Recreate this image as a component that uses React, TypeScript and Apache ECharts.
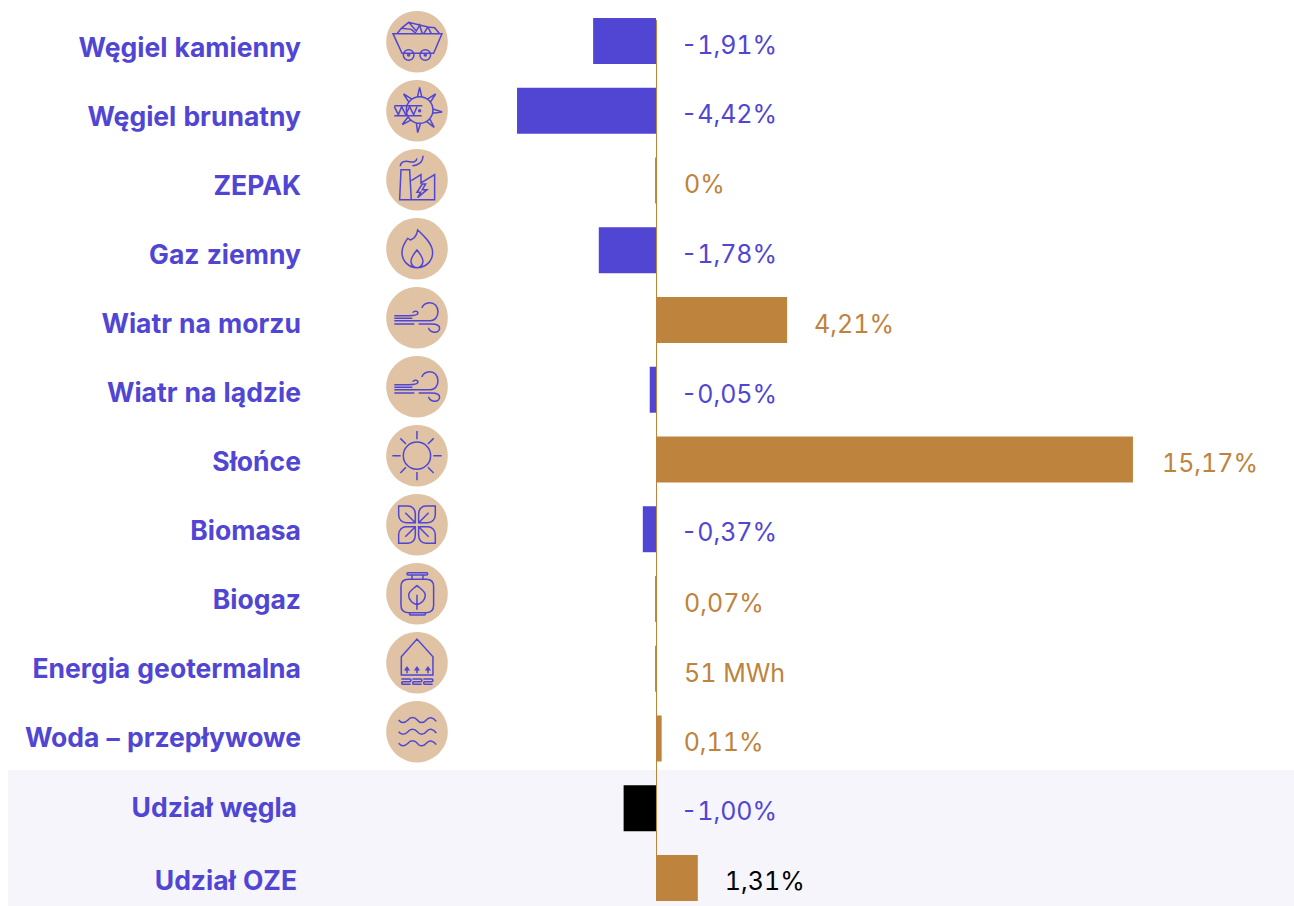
import React, { useEffect, useRef } from "react";
import * as echarts from "echarts";

const BLUE = "#5046d3";
const ORANGE = "#be833c";
const TAN = "#e0c3a4";
const BAND = "#f6f5fc";
const FONT = "Inter, 'Noto Sans', sans-serif";

const rowLabels = ["Węgiel kamienny", "Węgiel brunatny", "ZEPAK", "Gaz ziemny", "Wiatr na morzu", "Wiatr na lądzie", "Słońce", "Biomasa", "Biogaz", "Energia geotermalna", "Woda – przepływowe"];
const shareLabels = ["Udział węgla", "Udział OZE"];
const barKeys = [...rowLabels, ...shareLabels];
// Bar lengths as drawn in the picture (the thinnest bars are wider than their printed value).
const barValues = [-2.0, -4.42, -0.03, -1.82, 4.17, -0.2, 15.17, -0.42, -0.03, -0.03, 0.18, -1.03, 1.33];
const valueTexts = ["-1,91%", "-4,42%", "0%", "-1,78%", "4,21%", "-0,05%", "15,17%", "-0,37%", "0,07%", "51 MWh", "0,11%", "-1,00%", "1,31%"];
const barColors = [BLUE, BLUE, ORANGE, BLUE, ORANGE, BLUE, ORANGE, BLUE, ORANGE, ORANGE, ORANGE, "#000000", ORANGE];
const textColors = [BLUE, BLUE, ORANGE, BLUE, ORANGE, BLUE, ORANGE, BLUE, ORANGE, ORANGE, ORANGE, BLUE, "#000000"];
const labelGaps = [25, 25, 28, 25, 27, 25, 29, 25, 28, 28, 22, 25, 27];
const labelDy = [4, 3, 4, 4, 4, 4, 4, 3, 4, 4, 4, 3, 3];

const c = (x: number, y: number, r: number) => `M${x - r} ${y}a${r} ${r} 0 1 0 ${2 * r} 0a${r} ${r} 0 1 0 ${-2 * r} 0Z`;
const rr = (x: number, y: number, w: number, h: number, r: number) =>
  `M${x + r} ${y}H${x + w - r}Q${x + w} ${y} ${x + w} ${y + r}V${y + h - r}Q${x + w} ${y + h} ${x + w - r} ${y + h}H${x + r}Q${x} ${y + h} ${x} ${y + h - r}V${y + r}Q${x} ${y} ${x + r} ${y}Z`;
const wave = (y: number) => `M37 ${y}C45 ${y + 10} 55 ${y + 10} 65 ${y}C72 ${y - 10} 85 ${y - 10} 93 ${y}C100 ${y + 10} 112 ${y + 10} 120 ${y}C128 ${y - 10} 140 ${y - 10} 150 ${y + 4}`;
const arrow = (x: number) => `M${x} 124V108M${x - 5} 113L${x} 106L${x + 5} 113Z`;
const coil = (x: number) => `M${x} 141H${x + 26}C${x + 30} 141 ${x + 30} 149 ${x + 26} 149H${x + 4}C${x} 149 ${x} 157 ${x + 4} 157H${x + 28}`;
const tooth = (a: number) => {
  const t = (a * Math.PI) / 180, d = 0.16;
  const p = (ang: number, r: number) => `${(100 + r * Math.cos(ang)).toFixed(1)} ${(90 + r * Math.sin(ang)).toFixed(1)}`;
  return `M${p(t - d, 40)}L${p(t, 68)}L${p(t + d, 40)}`;
};

const windPath =
  "M24 86H67C80 86 95 86 95 78C95 72 84 70 79 77M24 94H78M24 101H132C147 101 155 88 155 74C155 58 145 47 130 47C118 47 108 55 107 63M24 111H84M97 111H136C150 111 160 116 160 124C160 132 152 137 144 136C134 135 127 128 127 122";

const iconPaths = [
  "M20 68H167L142 127H47ZM32 68L45 52L67 34L100 42L125 48L145 50L160 68M45 52L75 55L90 68M67 34L90 60L100 42L108 68M125 48L112 68M125 48L135 68" + c(67, 132, 16) + c(117, 132, 16) + c(67, 132, 3) + c(117, 132, 3),
  c(100, 90, 40) + [-90, -45, 5, 50, 95, 140, 225].map(tooth).join("") + "M24 77H108M24 107H106M24 80L36 104L46 80L58 104L70 80L82 104L92 80" + c(100, 92, 3),
  "M44 62H70L75 152H40ZM75 95L104 77V102L145 77V152H75M108 105L92 130H103L94 146L122 122H108L118 105ZM42 52C42 38 55 35 70 38C80 40 90 40 92 28M78 50C95 50 110 40 110 20",
  "M94 36C92 50 84 62 72 66C70 64 67 62 64 61C54 75 47 88 47 103C47 130 68 149 92 149C118 149 139 130 139 103C139 78 115 55 94 36ZM92 96C82 108 74 118 74 130C74 141 82 149 92 149C102 149 110 141 110 130C110 118 102 108 92 96Z",
  windPath,
  windPath,
  c(92, 92, 41) + "M92 18V43M92 141V166M18 92H43M141 92H166M42 40L59 57M142 40L125 57M42 144L59 127M142 144L125 127",
  "M37 36H65C78 36 87 46 87 60V86H60C47 86 37 76 37 62ZM57 56L87 86M147 36H119C106 36 97 46 97 60V86H124C137 86 147 76 147 62ZM127 56L97 86M37 148V122C37 108 47 98 60 98H87V124C87 138 78 148 65 148ZM57 128L87 98M147 148V122C147 108 137 98 124 98H97V124C97 138 106 148 119 148ZM127 128L97 98",
  rr(62, 29, 62, 7, 3) + "M77 36V49M110 36V49" + rr(44, 49, 98, 100, 22) + rr(70, 149, 47, 7, 2) + "M92 68C80 78 67 84 67 97C67 112 80 122 92 125C104 122 117 112 117 97C117 84 104 78 92 68ZM92 95V140",
  "M45 129V74L92 21L140 74V129Z" + arrow(62) + arrow(92) + arrow(125) + coil(45) + coil(78) + coil(111),
  wave(57) + wave(92) + wave(127),
];

const ICON_X = 417;
const ICON_Y0 = 42;
const ICON_STEP = 69;

export default function App() {
  const ref = useRef<HTMLDivElement>(null);
  useEffect(() => {
    if (!ref.current) return;
    iconPaths.forEach((d, i) => {
      echarts.graphic.registerShape("icon" + i, echarts.graphic.extendPath(d, {}) as any);
    });
    const chart = echarts.init(ref.current, undefined, { renderer: "svg" });
    const labelAxis = (gridIndex: number, data: string[]) => ({
      type: "category" as const,
      gridIndex,
      inverse: true,
      data,
      axisLine: { show: false },
      axisTick: { show: false },
      splitLine: { show: false },
      axisLabel: { margin: 0, color: BLUE, fontFamily: FONT, fontWeight: 700, fontSize: 26.5, align: "right" as const },
    });
    const hiddenX = (gridIndex: number) => ({ type: "value" as const, gridIndex, show: false, min: 0, max: 1 });
    chart.setOption({
      animation: false,
      backgroundColor: "transparent",
      grid: [
        { left: 27.2, width: 1257.6, top: 6.1, height: 906.75, outerBoundsMode: "none" },
        { left: 301, width: 10, top: 12.5, height: 759, outerBoundsMode: "none" },
        { left: 297, width: 10, top: 770, height: 146, outerBoundsMode: "none" },
      ],
      xAxis: [
        { type: "value", gridIndex: 0, min: -20, max: 20, show: false },
        hiddenX(1),
        hiddenX(2),
      ],
      yAxis: [
        { type: "category", gridIndex: 0, inverse: true, data: barKeys, show: false },
        labelAxis(1, rowLabels),
        labelAxis(2, shareLabels),
      ],
      series: [
        {
          type: "bar",
          xAxisIndex: 0,
          yAxisIndex: 0,
          barWidth: 46,
          data: barValues.map((v, i) => ({
            value: v,
            itemStyle: { color: barColors[i] },
            label: {
              show: true,
              position: "right",
              distance: labelGaps[i],
              offset: [0, labelDy[i]],
              formatter: valueTexts[i],
              color: textColors[i],
              fontFamily: FONT,
              fontSize: 25,
              fontWeight: 400,
            },
          })),
        },
      ],
      graphic: [
        { type: "rect", x: 8, y: 770, z: 0, silent: true, shape: { width: 1286, height: 136 }, style: { fill: BAND } },
        { type: "rect", x: 656, y: 20, z: 10, silent: true, shape: { width: 1, height: 880 }, style: { fill: ORANGE } },
        ...iconPaths.flatMap((_, i) => {
          const cy = ICON_Y0 + ICON_STEP * i;
          return [
            { type: "circle", z: 1, silent: true, shape: { cx: ICON_X, cy: cy - 0.3, r: 30.8 }, style: { fill: TAN } },
            {
              type: "icon" + i,
              z: 2,
              silent: true,
              x: ICON_X - 92 / 3,
              y: cy - 0.3 - 92 / 3,
              scaleX: 1 / 3,
              scaleY: 1 / 3,
              style: { fill: "none", stroke: BLUE, lineWidth: 4.5 },
            },
          ];
        }),
      ],
    });
    return () => chart.dispose();
  }, []);
  return (
    <div
      ref={ref}
      style={{ position: "absolute", left: 0, top: 0, width: 1294, height: 906, fontVariantNumeric: "tabular-nums", fontFeatureSettings: '"tnum"' }}
    />
  );
}
